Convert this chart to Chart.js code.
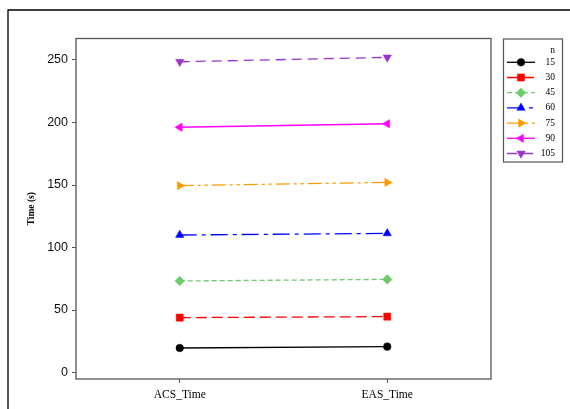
<!DOCTYPE html>
<html>
<head>
<meta charset="utf-8">
<script src="https://cdn.jsdelivr.net/npm/chart.js@4.4.1/dist/chart.umd.min.js"></script>
<style>
  html, body { margin: 0; padding: 0; background: #fff; }
  canvas { display: block; }
</style>
</head>
<body>
<canvas id="c" width="570" height="409"></canvas>
<script>
// ---- data ----
const categories = ['ACS_Time', 'EAS_Time'];
const sizes = ['15', '30', '45', '60', '75', '90', '105'];
const acsTime = [19.6, 43.9, 73.2, 110.0, 149.5, 196.2, 248.6];
const easTime = [20.7, 44.7, 74.5, 111.3, 152.1, 199.0, 252.1];
const yTicks = [0, 50, 100, 150, 200, 250];

// ---- styles ----
const colors = ['#000000', '#ff0000', '#6ccb6c', '#0000ff', '#ff9900', '#ff00ff', '#9933cc'];
const dashes = [[], [11, 5], [5, 3], [17, 5, 4, 5], [14, 4, 3, 4, 3, 4], [], [10, 6]];
const markers = ['circle', 'rect', 'rectRot', 'triangle', 'triangle', 'triangle', 'triangle'];
const rotations = [0, 0, 0, 0, 90, 270, 180];
const radii = [3.8, 5, 4.8, 4.8, 4.8, 4.8, 4.8];

const datasets = sizes.map((n, i) => ({
  label: n,
  data: [acsTime[i], easTime[i]],
  borderColor: colors[i],
  backgroundColor: colors[i],
  pointBackgroundColor: colors[i],
  pointBorderColor: colors[i],
  borderWidth: 1.3,
  borderDash: dashes[i],
  pointStyle: markers[i],
  pointRotation: rotations[i],
  pointRadius: radii[i],
  pointBorderWidth: 0.5,
  tension: 0,
  fill: false
}));

const framePlugin = {
  id: 'frame',
  beforeDraw(chart) {
    const ctx = chart.ctx;
    ctx.save();
    ctx.fillStyle = '#fff';
    ctx.fillRect(0, 0, chart.width, chart.height);
    ctx.strokeStyle = '#000';
    ctx.lineWidth = 1.3;
    ctx.beginPath();
    ctx.moveTo(8, chart.height + 2);
    ctx.lineTo(8, 10);
    ctx.lineTo(chart.width + 2, 10);
    ctx.stroke();
    ctx.restore();
  },
  afterDatasetsDraw(chart) {
    const a = chart.chartArea, ctx = chart.ctx;
    ctx.save();
    ctx.strokeStyle = '#555';
    ctx.lineWidth = 1.3;
    ctx.strokeRect(a.left, a.top, a.right - a.left, a.bottom - a.top);
    ctx.restore();
  }
};

const legendPlugin = {
  id: 'boxLegend',
  afterDraw(chart) {
    const ctx = chart.ctx;
    ctx.save();
    ctx.strokeStyle = '#555';
    ctx.lineWidth = 1.2;
    ctx.strokeRect(503.5, 39, 59, 123);
    ctx.fillStyle = '#000';
    ctx.font = '9.5px "Liberation Serif"';
    ctx.textAlign = 'right';
    ctx.textBaseline = 'middle';
    ctx.fillText('n', 555, 50);
    chart.data.datasets.forEach((ds, i) => {
      const y = 62.3 + i * 15.2;
      ctx.strokeStyle = ds.borderColor;
      ctx.lineWidth = ds.borderWidth;
      ctx.setLineDash(ds.borderDash || []);
      ctx.beginPath();
      ctx.moveTo(507, y);
      ctx.lineTo(535, y);
      ctx.stroke();
      ctx.setLineDash([]);
      ctx.fillStyle = ds.pointBackgroundColor;
      ctx.strokeStyle = ds.pointBorderColor;
      ctx.lineWidth = 0.5;
      Chart.helpers.drawPoint(ctx, {
        pointStyle: ds.pointStyle,
        rotation: ds.pointRotation,
        radius: ds.pointRadius,
        borderWidth: 0.5
      }, 521, y);
      ctx.fillStyle = '#000';
      ctx.fillText(ds.label, 555, y);
    });
    ctx.restore();
  }
};

new Chart(document.getElementById('c'), {
  type: 'line',
  data: { labels: categories, datasets },
  options: {
    responsive: false,
    animation: false,
    layout: { padding: { top: 38.5, right: 79, bottom: 0, left: 0 } },
    plugins: { legend: { display: false }, tooltip: { enabled: false } },
    scales: {
      x: {
        type: 'category',
        offset: true,
        grid: { offset: false, drawOnChartArea: false, tickLength: 4, tickColor: '#555', tickWidth: 1 },
        border: { display: false },
        ticks: { color: '#000', padding: 5, font: { family: 'Liberation Serif', size: 11.5 } },
        afterFit(s) { s.height = 30; }
      },
      y: {
        type: 'linear',
        min: -5.2,
        max: 267.2,
        afterBuildTicks(s) { s.ticks = yTicks.map(v => ({ value: v })); },
        grid: { drawOnChartArea: false, tickLength: 4, tickColor: '#555', tickWidth: 1 },
        border: { display: false },
        ticks: { color: '#111', padding: 4, font: { family: 'Liberation Sans', size: 12.5 } },
        title: {
          display: true,
          text: 'Time (s)',
          color: '#000',
          font: { family: 'Liberation Serif', size: 9.5, weight: 'bold' },
          padding: { top: 26, bottom: 0 }
        },
        afterFit(s) { s.width = 76; }
      }
    }
  },
  plugins: [framePlugin, legendPlugin]
});
</script>
</body>
</html>
